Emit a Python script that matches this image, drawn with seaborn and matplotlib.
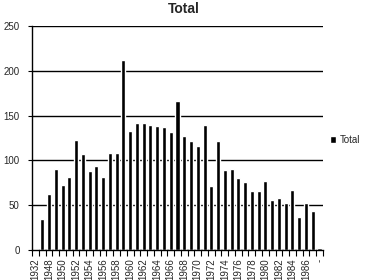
import numpy as np
import pandas as pd
import matplotlib
matplotlib.use("Agg")
import matplotlib.pyplot as plt
import seaborn as sns
from matplotlib.ticker import FixedLocator

# dados
anos = ["1932"] + [str(a) for a in range(1947, 1988)] + ["-"]
totais = [1, 35, 62, 91, 73, 82, 123, 107, 88, 94,
          82, 108, 108, 212, 133, 142, 142, 140, 138, 137,
          132, 166, 127, 122, 116, 140, 71, 122, 89, 90,
          80, 76, 66, 66, 77, 56, 58, 52, 67, 37,
          53, 44, 2]

df = pd.DataFrame({"Ano": anos, "Total": totais})

sns.set_style("white")
plt.rcParams["font.family"] = ["Liberation Sans", "DejaVu Sans"]

fig = plt.figure(figsize=(3.69, 2.8), dpi=100)
ax = fig.add_axes([0.087, 0.107, 0.788, 0.8])

sns.barplot(data=df, x="Ano", y="Total", color="black", width=0.6,
            saturation=1, ax=ax, label="Total")

ax.set_xlim(-0.5, len(anos) - 0.5)
ax.set_ylim(0, 250)
ax.set_yticks([0, 50, 100, 150, 200, 250])
ax.yaxis.grid(True, color="black", linewidth=1)
ax.set_axisbelow(True)
ax.tick_params(axis="y", labelsize=7, length=3, width=0.8, color="black",
               direction="out", left=True, pad=6)

pos = list(range(0, len(anos), 2))
ax.set_xticks(pos)
ax.set_xticklabels([anos[i] for i in pos], rotation=90, fontsize=7)
ax.xaxis.set_minor_locator(FixedLocator(np.arange(-0.5, len(anos), 1)))
ax.tick_params(axis="x", which="major", length=0, pad=6)
ax.tick_params(axis="x", which="minor", length=4, width=0.8,
               color="black", direction="out", bottom=True)

ax.set_xlabel("")
ax.set_ylabel("")
for lado in ["top", "right"]:
    ax.spines[lado].set_visible(False)
for lado in ["left", "bottom"]:
    ax.spines[lado].set_color("black")
    ax.spines[lado].set_linewidth(1)

fig.text(0.497, 0.968, "Total", ha="center", va="center",
         fontsize=10, fontweight="bold")

ax.legend(loc="center left", bbox_to_anchor=(0.87, 0.5),
          bbox_transform=fig.transFigure, frameon=False, fontsize=7,
          handlelength=0.6, handleheight=0.6, handletextpad=0.4)

fig.savefig("out.png", dpi=100)
